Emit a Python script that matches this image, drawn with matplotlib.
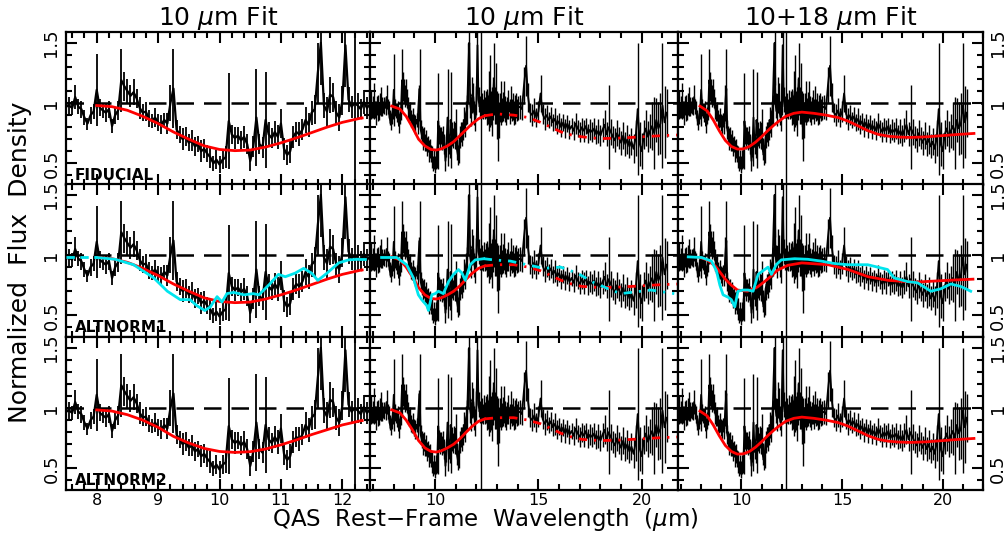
import numpy as np
import matplotlib
matplotlib.use('Agg')
import matplotlib.pyplot as plt
from matplotlib.ticker import MultipleLocator

# --- spectrum: SL part (6.85-14.0 um, 0.05 step) and LL part (14.1-21.2 um, 0.1 step)
flux_sl = [0.96, 0.99, 0.94, 0.97, 1.02, 0.95, 0.92, 0.98, 0.96, 0.93, 0.99, 1.01, 0.97,
           0.97, 0.98, 0.96, 1.05, 0.97, 0.95, 0.88, 0.83, 0.90, 0.93,
           1.11, 0.96, 0.94, 0.92, 0.95, 0.81, 0.90, 0.94, 1.19, 1.14,
           1.10, 1.06, 1.09, 1.04, 0.96, 0.92, 0.93, 0.87, 0.85, 0.88,
           0.84, 0.82, 0.86, 0.83, 1.00, 1.12, 0.78, 0.74, 0.70, 0.72,
           0.67, 0.69, 0.64, 0.66, 0.60, 0.62, 0.58, 0.55, 0.50, 0.53,
           0.49, 0.53, 0.55, 0.85, 0.74, 0.71, 0.73, 0.69, 0.72, 0.66,
           0.52, 0.64, 0.88, 0.66, 0.63, 0.86, 0.74, 0.71, 0.76, 0.72,
           0.83, 0.62, 0.57, 0.60, 0.72, 0.76, 0.74, 0.78, 0.86, 0.82,
           0.92, 0.95, 1.25, 1.50, 0.98, 0.93, 1.07, 1.05, 0.92, 0.88,
           1.02, 1.48, 1.03, 0.97, 1.00, 0.98, 0.95, 1.01, 0.96, 0.99,
           0.97, 0.95, 1.02, 1.10, 0.96, 0.93, 1.04, 1.20, 0.98, 1.08,
           0.90, 0.80, 0.86, 0.96, 1.00, 0.94, 0.97, 1.03, 0.95, 0.92,
           0.96, 0.99, 0.93, 1.01, 0.94, 0.97, 0.92, 0.95, 0.98, 0.94,
           0.96]
err_sl = [0.08, 0.12, 0.06, 0.09, 0.15, 0.07, 0.10, 0.08, 0.11, 0.07, 0.09, 0.12, 0.08,
          0.05, 0.07, 0.06, 0.10, 0.06, 0.07, 0.06, 0.05, 0.07, 0.06,
          0.30, 0.07, 0.06, 0.08, 0.07, 0.06, 0.07, 0.08, 0.26, 0.12,
          0.10, 0.09, 0.11, 0.08, 0.09, 0.07, 0.08, 0.07, 0.06, 0.08,
          0.07, 0.08, 0.06, 0.09, 0.15, 0.33, 0.08, 0.07, 0.09, 0.08,
          0.07, 0.09, 0.08, 0.07, 0.09, 0.08, 0.07, 0.09, 0.06, 0.08,
          0.07, 0.08, 0.09, 0.40, 0.08, 0.09, 0.07, 0.08, 0.09, 0.08,
          0.08, 0.09, 0.40, 0.08, 0.09, 0.40, 0.10, 0.08, 0.09, 0.10,
          0.12, 0.09, 0.08, 0.10, 0.09, 0.08, 0.10, 0.09, 0.11, 0.10,
          0.10, 0.12, 0.25, 0.35, 0.10, 0.12, 0.15, 0.12, 0.10, 0.11,
          0.12, 0.35, 0.10, 0.09, 1.00, 0.10, 0.08, 0.10, 0.09, 0.11,
          0.15, 0.12, 0.25, 0.30, 0.14, 0.20, 0.18, 0.30, 0.15, 0.25,
          0.20, 0.28, 0.15, 0.12, 0.18, 0.10, 0.12, 0.15, 0.11, 0.10,
          0.09, 0.12, 0.10, 0.13, 0.09, 0.11, 0.10, 0.12, 0.10, 0.09,
          0.10]
flux_ll = [0.97, 0.95, 1.15, 1.31, 1.05, 0.92, 0.90, 0.94, 0.88, 0.93,
           1.08, 0.91, 0.87, 0.90, 0.86, 0.89, 0.84, 0.87, 0.82, 0.85,
           0.80, 0.84, 0.79, 0.83, 0.78, 0.81, 0.77, 0.83, 0.79, 0.76,
           0.80, 0.77, 0.81, 0.75, 0.78, 0.76, 0.79, 0.74, 0.77, 0.73,
           0.78, 0.82, 0.74, 0.80, 0.76, 0.72, 0.69, 0.75, 0.71, 0.67,
           0.73, 0.66, 0.70, 0.64, 0.68, 0.62, 0.71, 0.95, 0.66, 0.60,
           0.74, 0.79, 0.72, 0.77, 0.81, 0.75, 0.86, 0.79, 0.83, 0.98,
           0.84, 0.92]
err_ll = [0.10, 0.09, 0.15, 0.25, 0.12, 0.08, 0.09, 0.10, 0.08, 0.09,
          0.15, 0.08, 0.09, 0.08, 0.07, 0.08, 0.07, 0.09, 0.08, 0.07,
          0.08, 0.07, 0.08, 0.07, 0.08, 0.07, 0.08, 0.09, 0.07, 0.08,
          0.08, 0.09, 0.07, 0.08, 0.09, 0.08, 0.09, 0.08, 0.10, 0.09,
          0.10, 0.12, 0.10, 0.35, 0.11, 0.09, 0.10, 0.11, 0.09, 0.10,
          0.11, 0.10, 0.12, 0.10, 0.11, 0.12, 0.15, 0.55, 0.18, 0.15,
          0.12, 0.15, 0.13, 0.14, 0.20, 0.30, 0.18, 0.22, 0.25, 0.52,
          0.30, 0.20]
wl = np.concatenate([np.linspace(6.85, 14.0, len(flux_sl)), np.linspace(14.1, 21.2, len(flux_ll))])
flux = np.array(flux_sl + flux_ll)
err = np.array(err_sl + err_ll)

# --- red model, 10 um fit, left column (high-res)
red10_left_wl = [8.0, 8.25, 8.5, 8.75, 9.0, 9.25, 9.5, 9.75, 10.0, 10.25, 10.5, 10.75, 11.0, 11.25, 11.5, 11.75, 12.0, 12.3]
red10_left_fid = [0.98, 0.97, 0.94, 0.89, 0.83, 0.76, 0.70, 0.645, 0.615, 0.605, 0.61, 0.635, 0.67, 0.71, 0.755, 0.80, 0.84, 0.875]
red10_left_alt = [0.985, 0.975, 0.945, 0.90, 0.84, 0.765, 0.71, 0.665, 0.64, 0.632, 0.638, 0.66, 0.695, 0.735, 0.78, 0.82, 0.86, 0.895]

# --- red model, 10 um fit, middle column (solid part + extrapolated part)
red10_mid_wl = [7.9, 8.3, 8.6, 8.9, 9.2, 9.5, 9.8, 10.05, 10.3, 10.6, 10.9, 11.2, 11.5, 11.8, 12.1, 12.4]
red10_mid_fid = [0.975, 0.95, 0.89, 0.80, 0.70, 0.645, 0.615, 0.61, 0.62, 0.645, 0.68, 0.73, 0.78, 0.83, 0.87, 0.895]
red10_mid_alt = [0.985, 0.96, 0.90, 0.82, 0.73, 0.67, 0.64, 0.635, 0.645, 0.67, 0.70, 0.745, 0.80, 0.85, 0.89, 0.91]
red10_ext_wl = [12.4, 13.0, 13.8, 14.5, 15.1, 15.6, 16.1, 16.6, 17.1, 18.0, 19.0, 20.0, 21.0, 21.75]
red10_ext_fid = [0.895, 0.91, 0.90, 0.88, 0.84, 0.80, 0.76, 0.735, 0.72, 0.705, 0.71, 0.72, 0.73, 0.735]
red10_ext_alt = [0.91, 0.92, 0.92, 0.90, 0.87, 0.83, 0.79, 0.76, 0.74, 0.73, 0.735, 0.745, 0.755, 0.76]

# --- red model, 10+18 um fit, right column
red18_wl = [7.94, 8.3, 8.6, 8.9, 9.2, 9.5, 9.8, 10.1, 10.4, 10.7, 11.0, 11.3, 11.6, 11.9, 12.2, 12.6,
            13.0, 13.6, 14.2, 14.8, 15.3, 15.8, 16.3, 16.8, 17.3, 17.8, 18.4, 19.2, 20.0, 20.8, 21.55]
red18_fid = [0.975, 0.935, 0.86, 0.77, 0.69, 0.64, 0.618, 0.62, 0.64, 0.675, 0.72, 0.77, 0.815, 0.855, 0.89, 0.915,
             0.925, 0.915, 0.90, 0.88, 0.85, 0.81, 0.77, 0.74, 0.725, 0.718, 0.715, 0.72, 0.73, 0.74, 0.748]
red18_alt1_wl = [7.94, 8.3, 8.7, 9.2, 9.5, 9.8, 10.3, 10.8, 11.3, 11.8, 12.3, 13.0, 14.3, 15.3, 16.3, 17.3, 18.6, 20.2, 21.5]
red18_alt1 = [0.98, 0.96, 0.91, 0.80, 0.75, 0.71, 0.70, 0.735, 0.80, 0.875, 0.915, 0.935, 0.92, 0.88, 0.82, 0.79, 0.775, 0.79, 0.80]

# --- cyan curves (ALTNORM1 row)
cyan_left_wl = [8.0, 8.3, 8.6, 8.93, 9.15, 9.36, 9.52, 9.63, 9.76, 9.85, 9.96, 10.04, 10.12, 10.23, 10.4, 10.55,
                10.64, 10.8, 10.96, 11.07, 11.23, 11.37, 11.5, 11.6, 11.75, 11.94, 12.1, 12.25]
cyan_left_f = [0.98, 0.965, 0.92, 0.81, 0.70, 0.63, 0.63, 0.58, 0.54, 0.57, 0.655, 0.61, 0.68, 0.69, 0.67, 0.68,
               0.67, 0.75, 0.84, 0.82, 0.85, 0.89, 0.85, 0.79, 0.85, 0.935, 0.96, 0.965]
cyan_mid_wl = [7.41, 8.14, 8.62, 8.95, 9.19, 9.35, 9.6, 9.68, 9.84, 10.0, 10.16, 10.4, 10.65, 10.89, 11.13,
               11.3, 11.46, 11.7, 11.94, 12.35]
cyan_mid_f = [0.98, 0.98, 0.92, 0.81, 0.67, 0.63, 0.58, 0.54, 0.67, 0.68, 0.70, 0.68, 0.78, 0.84, 0.88,
              0.85, 0.79, 0.92, 0.96, 0.97]
cyan_ext_wl = [12.35, 12.83, 13.64, 14.45, 15.26, 16.07, 16.88, 17.69, 18.66, 18.98, 20.44, 21.57]
cyan_ext_f = [0.97, 0.96, 0.95, 0.92, 0.89, 0.90, 0.85, 0.77, 0.70, 0.68, 0.71, 0.68]
cyan_right_wl = [7.36, 8.02, 8.51, 8.76, 8.93, 9.09, 9.34, 9.5, 9.67, 9.83, 10.08, 10.33, 10.58, 10.83, 11.07,
                 11.32, 11.49, 11.73, 11.98, 12.64, 13.3, 13.96, 14.62, 15.28, 16.27, 17.26, 17.59, 18.25,
                 18.75, 19.41, 19.9, 20.4, 20.89, 21.39]
cyan_right_f = [0.985, 0.98, 0.95, 0.87, 0.75, 0.67, 0.65, 0.63, 0.57, 0.70, 0.71, 0.71, 0.70, 0.84, 0.87,
                0.90, 0.84, 0.92, 0.96, 0.97, 0.965, 0.95, 0.93, 0.92, 0.92, 0.88, 0.81, 0.78,
                0.77, 0.70, 0.72, 0.76, 0.74, 0.70]

row_names = ['FIDUCIAL', 'ALTNORM1', 'ALTNORM2']
titles = ['10 $\\mu$m Fit', '10 $\\mu$m Fit', '10+18 $\\mu$m Fit']

fig = plt.figure(figsize=(10.07, 5.35), dpi=100)
W, H = 1007.0, 535.0
col_x = [66, 370, 678]
col_w = [304, 308, 305]
row_top = [32, 184, 337]
row_h = 153
xlims = [(7.5, 12.45), (6.85, 21.75), (6.85, 22.0)]

RED = '#ff0000'
CYAN = '#00e5ee'

for r in range(3):
    for c in range(3):
        ax = fig.add_axes([col_x[c] / W, (H - row_top[r] - row_h) / H, col_w[c] / W, row_h / H])
        ax.set_xlim(*xlims[c])
        ax.set_ylim(0.32, 1.59)
        thin = 1.3 if c == 0 else 1.0
        ax.errorbar(wl, flux, yerr=err, fmt='-', color='k', lw=thin + 0.3, elinewidth=thin, capsize=0, zorder=2)
        ax.axhline(1.0, color='k', lw=1.8, ls=(0, (7, 4)), zorder=3)

        # red models
        if c == 0:
            rf = red10_left_alt if r == 2 else red10_left_fid
            ax.plot(red10_left_wl, rf, color=RED, lw=2.0, zorder=4)
            ax.plot([12.3, 12.45], [rf[-1], rf[-1] + 0.01], color=RED, lw=2.0, ls=(0, (1, 2)), zorder=4)
        elif c == 1:
            rf = red10_mid_fid if r == 0 else red10_mid_alt
            re = red10_ext_fid if r == 0 else red10_ext_alt
            ax.plot(red10_mid_wl, rf, color=RED, lw=2.0, zorder=4)
            ax.plot(red10_ext_wl, re, color=RED, lw=2.0, ls=(0, (3, 2.5, 0.8, 2.5)), zorder=4)
        else:
            if r == 1:
                ax.plot(red18_alt1_wl, red18_alt1, color=RED, lw=2.0, zorder=4)
            else:
                ax.plot(red18_wl, red18_fid, color=RED, lw=2.0, zorder=4)

        # cyan models (ALTNORM1 only)
        if r == 1:
            if c == 0:
                ax.plot(cyan_left_wl, cyan_left_f, color=CYAN, lw=2.0, zorder=5)
                ax.plot([7.5, 8.0], [cyan_left_f[0], cyan_left_f[0]], color=CYAN, lw=2.0, ls=(0, (3, 2)), zorder=5)
                ax.plot([12.25, 12.45], [cyan_left_f[-1], cyan_left_f[-1]], color=CYAN, lw=2.0, ls=(0, (3, 2)), zorder=5)
            elif c == 1:
                ax.plot(cyan_mid_wl, cyan_mid_f, color=CYAN, lw=2.0, zorder=5)
                ax.plot(cyan_ext_wl, cyan_ext_f, color=CYAN, lw=2.0, ls=(0, (3, 2.5, 0.8, 2.5)), zorder=5)
            else:
                ax.plot(cyan_right_wl, cyan_right_f, color=CYAN, lw=2.0, zorder=5)

        # ticks
        if c == 0:
            ax.xaxis.set_major_locator(MultipleLocator(1))
            ax.xaxis.set_minor_locator(MultipleLocator(0.2))
        else:
            ax.xaxis.set_major_locator(MultipleLocator(5))
            ax.xaxis.set_minor_locator(MultipleLocator(1))
        ax.set_yticks([0.5, 1.0, 1.5])
        ax.set_yticklabels(['0.5', '1', '1.5'], rotation=90, va='center')
        ax.yaxis.set_minor_locator(MultipleLocator(0.1))
        ax.tick_params(which='both', direction='in', top=True, right=True, width=1.5)
        ax.tick_params(which='major', length=8)
        ax.tick_params(which='minor', length=4.5)
        ax.tick_params(axis='x', labelbottom=(r == 2), pad=2, labelsize=11.5)
        ax.tick_params(axis='y', labelleft=(c == 0), labelright=(c == 2), pad=4, labelsize=13)
        for s in ax.spines.values():
            s.set_linewidth(1.6)

        if c == 0:
            ax.text(0.03, 0.015, row_names[r], transform=ax.transAxes, fontsize=11,
                    fontweight='bold', ha='left', va='bottom', zorder=6)
        if r == 0:
            ax.set_title(titles[c], fontsize=18, pad=5)

fig.text(20 / W, 1 - 262 / H, 'Normalized  Flux  Density', rotation=90, fontsize=18,
         ha='center', va='center')
fig.text(485 / W, 2 / H, 'QAS  Rest\u2212Frame  Wavelength  ($\\mu$m)', fontsize=16.5,
         ha='center', va='bottom')

fig.savefig('out.png', dpi=100)
